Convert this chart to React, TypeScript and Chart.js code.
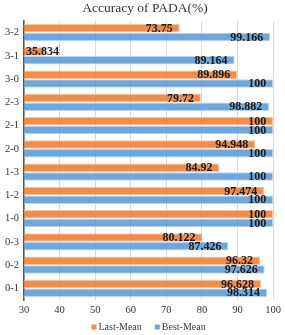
import React, { useEffect, useRef } from "react";
import { Chart, registerables } from "chart.js";

Chart.register(...registerables);

const categories = ["3-2", "3-1", "3-0", "2-3", "2-1", "2-0", "1-3", "1-2", "1-0", "0-3", "0-2", "0-1"];
const lastMean = [73.75, 35.834, 89.896, 79.72, 100, 94.948, 84.92, 97.474, 100, 80.122, 96.32, 96.628];
const bestMean = [99.166, 89.164, 100, 98.882, 100, 100, 100, 100, 100, 87.426, 97.626, 98.314];
const xMin = 30;
const xMax = 100;
const xStep = 10;
const titleText = "Accuracy of PADA(%)";
const seriesNames = ["Last-Mean", "Best-Mean"];

const SERIF = "'Liberation Serif', 'Times New Roman', serif";
const ORANGE = "rgba(237,125,49,0.88)";
const BLUE = "rgba(91,155,213,0.88)";

const labelPlugin = {
  id: "barLabels",
  afterDatasetsDraw(chart: any) {
    const ctx = chart.ctx;
    const left = chart.chartArea.left;
    ctx.save();
    ctx.font = "bold 12px " + SERIF;
    ctx.fillStyle = "#1a1a1a";
    ctx.textBaseline = "middle";
    ctx.textAlign = "left";
    chart.data.datasets.forEach((ds: any, i: number) => {
      const meta = chart.getDatasetMeta(i);
      meta.data.forEach((bar: any, j: number) => {
        const text = String(ds.data[j]);
        const w = ctx.measureText(text).width;
        let x = bar.x - 7 - w;
        if (x < left + 2) x = left + 2;
        ctx.fillText(text, x, bar.y + 0.5);
      });
    });
    ctx.restore();
  },
};

const decorPlugin = {
  id: "decor",
  afterDraw(chart: any) {
    const ctx = chart.ctx;
    const area = chart.chartArea;
    ctx.save();
    // title
    ctx.font = "13.5px " + SERIF;
    ctx.fillStyle = "#333333";
    ctx.textAlign = "center";
    ctx.textBaseline = "middle";
    ctx.fillText(titleText, 145, 8.5);
    // legend
    ctx.font = "10px " + SERIF;
    ctx.textAlign = "left";
    const box = 5;
    const gapBoxText = 2;
    const gapItems = 13;
    const colors = [ORANGE, BLUE];
    const widths = seriesNames.map((n) => box + gapBoxText + ctx.measureText(n).width);
    const total = widths.reduce((a, b) => a + b, 0) + gapItems * (widths.length - 1);
    let x = (area.left + area.right) / 2 - total / 2;
    const y = chart.height - 8;
    seriesNames.forEach((n, i) => {
      ctx.fillStyle = colors[i];
      ctx.fillRect(x, y - box / 2, box, box);
      ctx.fillStyle = "#404040";
      ctx.fillText(n, x + box + gapBoxText, y + 0.5);
      x += widths[i] + gapItems;
    });
    ctx.restore();
  },
};

export default function App() {
  const ref = useRef<HTMLCanvasElement>(null);
  useEffect(() => {
    if (!ref.current) return;
    const chart = new Chart(ref.current, {
      type: "bar",
      data: {
        labels: categories,
        datasets: [
          {
            label: seriesNames[0],
            data: lastMean,
            backgroundColor: ORANGE,
            borderColor: "rgba(248,190,150,0.9)",
            borderWidth: 1,
            categoryPercentage: 0.74,
            barPercentage: 0.98,
          },
          {
            label: seriesNames[1],
            data: bestMean,
            backgroundColor: BLUE,
            borderColor: "rgba(180,210,238,0.9)",
            borderWidth: 1,
            categoryPercentage: 0.74,
            barPercentage: 0.98,
          },
        ],
      },
      options: {
        indexAxis: "y",
        responsive: false,
        animation: false,
        devicePixelRatio: 1,
        layout: { padding: { left: 0, right: 9, top: 21, bottom: 16 } },
        scales: {
          x: {
            min: xMin,
            max: xMax,
            ticks: { stepSize: xStep, font: { family: SERIF, size: 10.5 }, color: "#333333", padding: 4 },
            grid: { color: "#d9d9d9", drawTicks: false },
            border: { display: false },
            afterFit: (s: any) => {
              s.height = 19;
            },
          },
          y: {
            ticks: { font: { family: SERIF, size: 10.5 }, color: "#333333", padding: 5 },
            grid: { display: false, drawTicks: false },
            border: { display: true, color: "#595959", width: 1.5 },
            afterFit: (s: any) => {
              s.width = 24;
            },
          },
        },
        plugins: {
          title: { display: false },
          legend: { display: false },
          tooltip: { enabled: false },
        },
      },
      plugins: [labelPlugin, decorPlugin],
    } as any);
    return () => chart.destroy();
  }, []);
  return (
    <div style={{ position: "absolute", left: 0, top: 0, width: 285, height: 335 }}>
      <canvas ref={ref} width={285} height={335} style={{ display: "block" }} />
    </div>
  );
}
